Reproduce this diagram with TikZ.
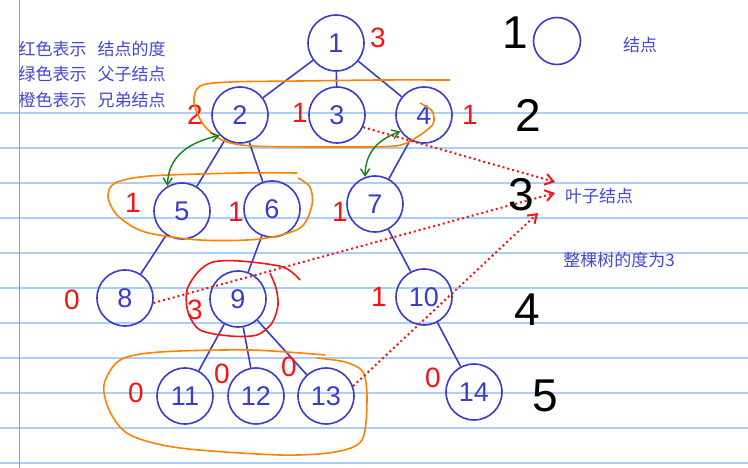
\documentclass[tikz,border=0pt]{standalone}
\usepackage{fontspec}
\setmainfont{Liberation Sans}
\newfontfamily\cjk{Noto Sans CJK SC}
\usetikzlibrary{arrows.meta}
\definecolor{penblue}{RGB}{60,60,200}
\definecolor{inkblue}{RGB}{70,70,210}
\definecolor{penred}{RGB}{245,20,20}
\definecolor{penorange}{RGB}{255,130,0}
\definecolor{pengreen}{RGB}{20,130,20}
\definecolor{ruled}{RGB}{170,208,250}
\definecolor{margin}{RGB}{240,110,190}

\begin{document}
\begin{tikzpicture}[x=1pt,y=-1pt,
	vertex/.style={circle, draw=penblue, line width=1.6pt, minimum size=56pt, inner sep=0pt, text=penblue, font=\fontsize{27}{27}\selectfont},
	tree/.style={penblue, line width=1.6pt},
	degree/.style={text=penred, font=\fontsize{28}{28}\selectfont},
	level/.style={text=black, font=\fontsize{46}{46}\selectfont},
	note/.style={text=inkblue, font=\cjk\fontsize{17}{17}\selectfont},
	sibling/.style={penorange, line width=1.6pt},
	kinship/.style={pengreen, line width=1.4pt, {Straight Barb[length=7pt,width=9pt]}-{Straight Barb[length=7pt,width=9pt]}},
	leafarrow/.style={penred, line width=2pt, dash pattern=on 2pt off 3pt, -{Straight Barb[length=8pt,width=11pt]}}]

		% paper
		\fill[white] (0,0) rectangle (748,468);
		\useasboundingbox (0,0) rectangle (748,468);
		\foreach \y in {113,148,...,463}
			\draw[ruled, line width=1.2pt] (0,\y) -- (748,\y);
		\draw[margin, line width=1pt] (19,0) -- (19,468);

		% legend
		\draw (15,49) node [note, anchor=west] (red) {红色表示\hspace{11pt}结点的度};
		\draw (15,74) node [note, anchor=west] (green) {绿色表示\hspace{11pt}父子结点};
		\draw (15,100) node [note, anchor=west] (orange) {橙色表示\hspace{11pt}兄弟结点};

		% tree
		\draw (336,43) node [vertex] (1) {1};
		\draw (240,115) node [vertex] (2) {2};
		\draw (337,115) node [vertex] (3) {3};
		\draw (424,115) node [vertex] (4) {4};
		\draw (182,211) node [vertex] (5) {5};
		\draw (272,209) node [vertex] (6) {6};
		\draw (375,204) node [vertex] (7) {7};
		\draw (125,298) node [vertex] (8) {8};
		\draw (238,299) node [vertex] (9) {9};
		\draw (424,297) node [vertex] (10) {10};
		\draw (185,396) node [vertex] (11) {11};
		\draw (256,396) node [vertex] (12) {12};
		\draw (326,396) node [vertex] (13) {13};
		\draw (474,392) node [vertex] (14) {14};

		\draw[tree]
		(1) edge (2)
		(1) edge (3)
		(1) edge (4)
		(2) edge (5)
		(2) edge (6)
		(4) edge (7)
		(5) edge (8)
		(6) edge (9)
		(7) edge (10)
		(9) edge (11)
		(9) edge (12)
		(9) edge (13)
		(10) edge (14);

		% degrees
		\draw (378,38) node [degree] (d1) {3};
		\draw (195,115) node [degree] (d2) {2};
		\draw (300,113) node [degree] (d3) {1};
		\draw (470,115) node [degree] (d4) {1};
		\draw (133,203) node [degree] (d5) {1};
		\draw (236,212) node [degree] (d6) {1};
		\draw (340,212) node [degree] (d7) {1};
		\draw (72,300) node [degree] (d8) {0};
		\draw (195,310) node [degree] (d9) {3};
		\draw (379,297) node [degree] (d10) {1};
		\draw (136,393) node [degree] (d11) {0};
		\draw (222,374) node [degree] (d12) {0};
		\draw (289,367) node [degree] (d13) {0};
		\draw (433,378) node [degree] (d14) {0};

		% siblings
		\draw[sibling] plot[smooth] coordinates {(450,80) (380,80) (300,81) (230,82) (200,86) (194,102) (203,124) (222,140) (252,146) (330,147) (395,146) (417,137) (433,124) (432,111) (420,103)};
		\draw[sibling] plot[smooth] coordinates {(297,173) (240,173) (150,176) (115,183) (108,197) (118,216) (145,232) (200,240) (260,239) (300,228) (312,205) (310,187) (298,178)};
		\draw[sibling] plot[smooth] coordinates {(325,355) (250,350) (160,352) (120,360) (104,385) (110,412) (130,435) (180,448) (280,455) (335,452) (362,440) (367,400) (363,372) (345,362) (317,358)};

		% degree of 9
		\draw[penred, line width=1.6pt] plot[smooth] coordinates {(300,280) (283,267) (240,261) (213,262) (198,272) (187,290) (188,312) (200,330) (230,336) (257,335) (272,323) (278,305) (276,288) (270,273)};

		% parent and child
		\draw[kinship] (2.225) .. controls (200,140) and (168,150) .. (5.120);
		\draw[kinship] (4.215) .. controls (382,138) and (365,150) .. (7.110);

		% leaves
		\coordinate (leafa) at (555,182);
		\coordinate (leafb) at (555,193);
		\coordinate (leafc) at (538,213);
		\draw[leafarrow] (3.335) -- (leafa);
		\draw[leafarrow] (8.-10) -- (leafb);
		\draw[leafarrow] (13.20) -- (leafc);
		\draw (599,196) node [note] (leaf) {叶子结点};
		\draw (619,260) node [note] (whole) {整棵树的度为3};

		% levels
		\draw (515,33) node [level] (l1) {1};
		\draw (557,41) node [circle, draw=penblue, line width=1.6pt, minimum size=47pt] (o) {};
		\draw (640,45) node [note] (node) {结点};
		\draw (528,115) node [level] (l2) {2};
		\draw (521,195) node [level] (l3) {3};
		\draw (527,310) node [level] (l4) {4};
		\draw (545,396) node [level] (l5) {5};
	\end{tikzpicture}
\end{document}
